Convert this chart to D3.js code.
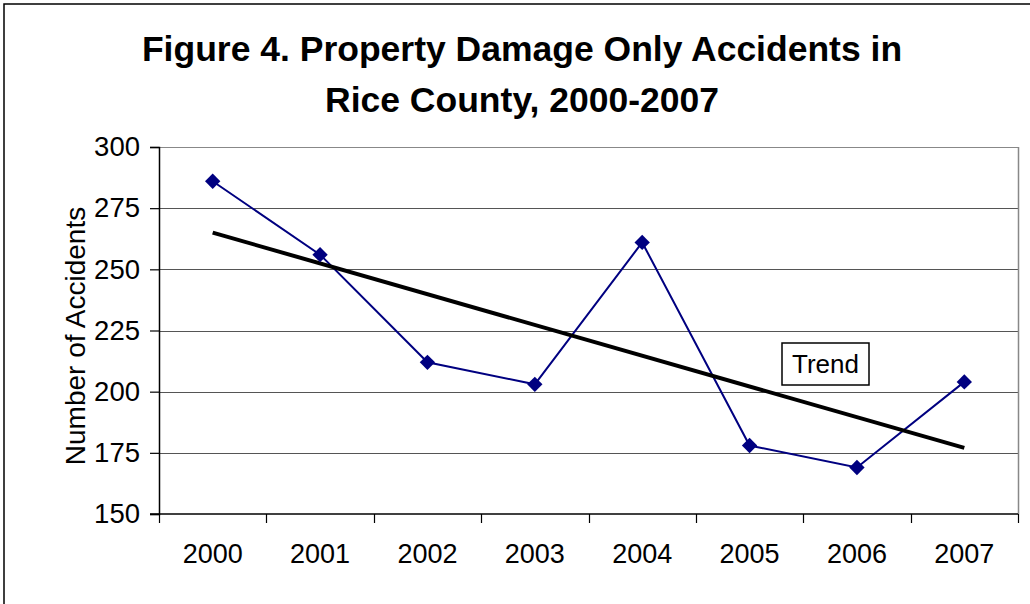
<!DOCTYPE html>
<html>
<head>
<meta charset="utf-8">
<script src="https://cdn.jsdelivr.net/npm/d3@7"></script>
<style>
  html, body { margin: 0; padding: 0; background: #fff; }
  svg { display: block; font-family: "Liberation Sans", Arial, sans-serif; }
</style>
</head>
<body>
<div id="chart"></div>
<script>
// chart values
var years = ['2000', '2001', '2002', '2003', '2004', '2005', '2006', '2007'];
var accidents = [286, 256, 212, 203, 261, 178, 169, 204];
var trendEnds = [265, 177]; // trend line at first and last year
var yTicks = [150, 175, 200, 225, 250, 275, 300];
var titleLines = ['Figure 4. Property Damage Only Accidents in', 'Rice County, 2000-2007'];

var width = 1030, height = 604;
var margin = { top: 147, right: 12, bottom: 90, left: 159 };

var svg = d3.select('#chart').append('svg')
    .attr('width', width)
    .attr('height', height);

// outer chart border (only left/top edges are visible)
svg.append('rect')
    .attr('x', 4).attr('y', 4)
    .attr('width', width + 20).attr('height', height + 20)
    .attr('fill', '#fff')
    .attr('stroke', '#000')
    .attr('stroke-width', 1.5);

var plotW = width - margin.left - margin.right,
    plotH = height - margin.top - margin.bottom;

var xScale = d3.scaleBand()
    .domain(years)
    .range([0, plotW]);

var yScale = d3.scaleLinear()
    .domain([150, 300])
    .range([plotH, 0]);

var g = svg.append('g')
    .attr('transform', 'translate(' + margin.left + ',' + margin.top + ')');

// gridlines
g.selectAll('line.grid')
    .data(yTicks.slice(1))
    .enter()
    .append('line')
    .attr('class', 'grid')
    .attr('x1', 0).attr('x2', plotW)
    .attr('y1', function (d) { return Math.round(yScale(d)) + 0.5; })
    .attr('y2', function (d) { return Math.round(yScale(d)) + 0.5; })
    .attr('stroke', function (d) { return d === 300 ? '#888' : '#555'; })
    .attr('stroke-width', 1.2);

// right border of plot area
g.append('line')
    .attr('x1', plotW + 0.5).attr('x2', plotW + 0.5)
    .attr('y1', 0).attr('y2', plotH)
    .attr('stroke', '#888')
    .attr('stroke-width', 1.5);

// y axis
var yAxis = d3.axisLeft(yScale)
    .tickValues(yTicks)
    .tickSize(9)
    .tickPadding(10);

var yg = g.append('g').call(yAxis);
yg.select('.domain').attr('stroke', '#000').attr('stroke-width', 1.5);
yg.selectAll('.tick line').attr('stroke', '#000').attr('stroke-width', 1.2);
yg.selectAll('.tick text')
    .attr('font-size', 27.5)
    .attr('fill', '#000')
    .attr('font-family', '"Liberation Sans", Arial, sans-serif');

// x axis: ticks between categories
var xg = g.append('g').attr('transform', 'translate(0,' + plotH + ')');
xg.append('line')
    .attr('x1', -9).attr('x2', plotW)
    .attr('y1', 0).attr('y2', 0)
    .attr('stroke', '#000')
    .attr('stroke-width', 1.5);

var bounds = years.map(function (d) { return xScale(d); }).concat([plotW]);
xg.selectAll('line.xtick')
    .data(bounds)
    .enter()
    .append('line')
    .attr('class', 'xtick')
    .attr('x1', function (d) { return Math.round(d) + 0.5; })
    .attr('x2', function (d) { return Math.round(d) + 0.5; })
    .attr('y1', 0).attr('y2', 9)
    .attr('stroke', '#000')
    .attr('stroke-width', 1.2);

xg.selectAll('text.xlab')
    .data(years)
    .enter()
    .append('text')
    .attr('class', 'xlab')
    .attr('x', function (d) { return xScale(d) + xScale.bandwidth() / 2; })
    .attr('y', 49)
    .attr('text-anchor', 'middle')
    .attr('font-size', 27)
    .attr('fill', '#000')
    .text(function (d) { return d; });

// y axis title
svg.append('text')
    .attr('transform', 'translate(85,336) rotate(-90)')
    .attr('text-anchor', 'middle')
    .attr('font-size', 28)
    .attr('fill', '#000')
    .text('Number of Accidents');

// title
svg.selectAll('text.title')
    .data(titleLines)
    .enter()
    .append('text')
    .attr('class', 'title')
    .attr('x', 522)
    .attr('y', function (d, i) { return 61 + i * 51; })
    .attr('text-anchor', 'middle')
    .attr('font-size', 35.5)
    .attr('font-weight', 'bold')
    .attr('fill', '#000')
    .text(function (d) { return d; });

var cx = function (d, i) { return xScale(years[i]) + xScale.bandwidth() / 2; };

// series line
var line = d3.line()
    .x(function (d, i) { return cx(d, i); })
    .y(function (d) { return yScale(d); });

g.append('path')
    .datum(accidents)
    .attr('d', line)
    .attr('fill', 'none')
    .attr('stroke', '#000080')
    .attr('stroke-width', 2);

// trend line
var trendIdx = [0, years.length - 1];
g.append('line')
    .attr('x1', cx(null, trendIdx[0]))
    .attr('y1', yScale(trendEnds[0]))
    .attr('x2', cx(null, trendIdx[1]))
    .attr('y2', yScale(trendEnds[1]))
    .attr('stroke', '#000')
    .attr('stroke-width', 4);

// markers
g.selectAll('path.marker')
    .data(accidents)
    .enter()
    .append('path')
    .attr('class', 'marker')
    .attr('d', d3.symbol().type(d3.symbolDiamond2).size(150))
    .attr('transform', function (d, i) {
        return 'translate(' + cx(d, i) + ',' + yScale(d) + ')';
    })
    .attr('fill', '#000080');

// trend label
var lbl = g.append('g').attr('transform', 'translate(' + (782 - margin.left) + ',' + (343 - margin.top) + ')');
lbl.append('rect')
    .attr('width', 87).attr('height', 42)
    .attr('fill', '#fff')
    .attr('stroke', '#000')
    .attr('stroke-width', 1.5);
lbl.append('text')
    .attr('x', 43.5).attr('y', 30)
    .attr('text-anchor', 'middle')
    .attr('font-size', 26)
    .attr('fill', '#000')
    .text('Trend');
</script>
</body>
</html>
